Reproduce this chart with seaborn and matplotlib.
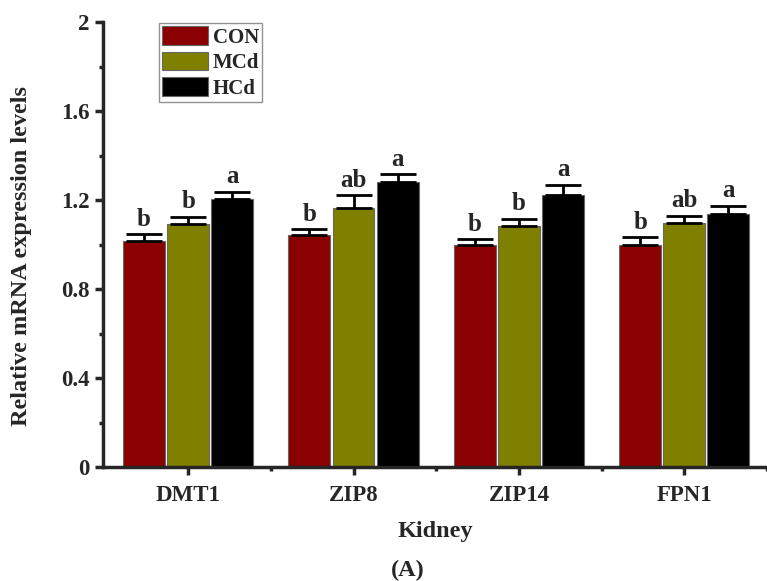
import numpy as np
import pandas as pd
import matplotlib
matplotlib.use("Agg")
import matplotlib.pyplot as plt
import seaborn as sns
from matplotlib.ticker import MultipleLocator

# data
genes = ["DMT1", "ZIP8", "ZIP14", "FPN1"]
groups = ["CON", "MCd", "HCd"]
con = [1.017, 1.041, 0.998, 0.998]
mcd = [1.092, 1.164, 1.082, 1.095]
hcd = [1.207, 1.282, 1.222, 1.138]
con_err = [0.030, 0.029, 0.025, 0.034]
mcd_err = [0.033, 0.058, 0.035, 0.035]
hcd_err = [0.031, 0.036, 0.048, 0.037]
con_sig = ["b", "b", "b", "b"]
mcd_sig = ["b", "ab", "b", "ab"]
hcd_sig = ["a", "a", "a", "a"]
yticks = [0, 0.4, 0.8, 1.2, 1.6, 2]
ytick_labels = ["0", "0.4", "0.8", "1.2", "1.6", "2"]

colors = {"CON": "#8b0000", "MCd": "#808000", "HCd": "#000000"}

df = pd.DataFrame({
    "gene": genes * 3,
    "group": ["CON"] * 4 + ["MCd"] * 4 + ["HCd"] * 4,
    "value": con + mcd + hcd,
    "err": con_err + mcd_err + hcd_err,
    "sig": con_sig + mcd_sig + hcd_sig,
})

sns.set_style("ticks")
plt.rcParams["font.family"] = ["Liberation Serif", "DejaVu Serif"]
plt.rcParams["font.weight"] = "bold"

fig = plt.figure(figsize=(7.67, 5.81), dpi=100)
ax = fig.add_axes([0.134, 0.196, 0.866, 0.766])

sns.barplot(data=df, x="gene", y="value", hue="group", order=genes,
            hue_order=groups, palette=colors, width=0.8, gap=0.05,
            saturation=1, errorbar=None, edgecolor="#666666",
            linewidth=0.8, ax=ax, legend=True)

# upper-only error bars and significance letters, placed on the drawn bars
for container, grp in zip(ax.containers, groups):
    sub = df[df["group"] == grp].set_index("gene").loc[genes]
    for bar, (_, row) in zip(container, sub.iterrows()):
        xc = bar.get_x() + bar.get_width() / 2
        top = bar.get_height()
        ax.errorbar(xc, top, yerr=[[0], [row["err"]]], fmt="none",
                    ecolor="black", elinewidth=2, capsize=13, capthick=2)
        ax.text(xc, top + row["err"] + 0.015, row["sig"], ha="center",
                va="bottom", fontsize=18, fontweight="bold")

ax.set_xlim(-0.516, 3.424)
ax.set_ylim(0, 2)
ax.set_yticks(yticks)
ax.set_yticklabels(ytick_labels)
ax.yaxis.set_minor_locator(MultipleLocator(0.2))
ax.set_xticks(range(len(genes)))
ax.set_xticks(np.arange(0.5, len(genes), 1), minor=True)

for s in ["top", "right"]:
    ax.spines[s].set_visible(False)
for s in ["left", "bottom"]:
    ax.spines[s].set_linewidth(2.5)
ax.tick_params(axis="both", which="major", direction="out", length=6,
               width=2.5, labelsize=16.5)
ax.tick_params(axis="x", which="major", pad=7)
ax.tick_params(axis="both", which="minor", direction="out", length=3,
               width=2.5)
for lab in ax.get_xticklabels() + ax.get_yticklabels():
    lab.set_fontweight("bold")

ax.set_xlabel("Kidney", fontsize=17.5, fontweight="bold", labelpad=11)
ax.set_ylabel("Relative mRNA expression levels", fontsize=17.5,
              fontweight="bold")
ax.yaxis.set_label_coords(-0.107, 0.475)

leg = ax.legend(loc="upper left", bbox_to_anchor=(0.084, 0.998), frameon=True,
                fancybox=False, edgecolor="#777777", fontsize=15,
                handlelength=2.2, handleheight=1.0, labelspacing=0.2,
                borderpad=0.15, handletextpad=0.25, borderaxespad=0.0)
leg.get_frame().set_linewidth(1.0)
for t in leg.get_texts():
    t.set_fontweight("bold")

fig.text(0.531, 0.008, "(A)", ha="center", va="baseline", fontsize=17.5,
         fontweight="bold")

fig.savefig("out.png", dpi=100)
